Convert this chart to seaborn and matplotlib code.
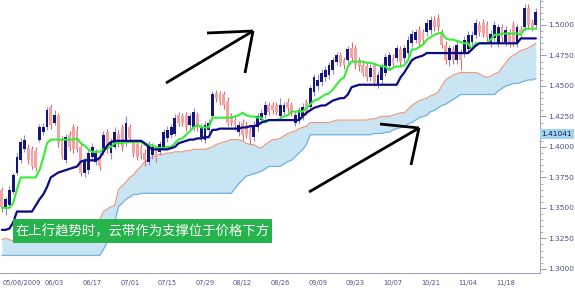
import numpy as np
import pandas as pd
import matplotlib
matplotlib.use("Agg")
import matplotlib.pyplot as plt
from matplotlib.lines import Line2D
from matplotlib.patches import Rectangle
from matplotlib.transforms import ScaledTranslation
import seaborn as sns

# daily candles, one per trading day
opens = [
    1.365, 1.351, 1.352, 1.363, 1.379, 1.389, 1.398, 1.399, 1.398, 1.397,
    1.406, 1.412, 1.416, 1.433, 1.420, 1.425, 1.406, 1.389, 1.410, 1.416,
    1.414, 1.400, 1.379, 1.381, 1.392, 1.388, 1.392, 1.396, 1.412, 1.395,
    1.400, 1.411, 1.416, 1.404, 1.416, 1.403, 1.402, 1.399, 1.395, 1.388,
    1.393, 1.398, 1.396, 1.400, 1.407, 1.410, 1.411, 1.426, 1.425, 1.426,
    1.418, 1.416, 1.426, 1.408, 1.406, 1.414, 1.425, 1.444, 1.443, 1.443,
    1.438, 1.425, 1.422, 1.412, 1.420, 1.418, 1.414, 1.408, 1.416, 1.422,
    1.426, 1.434, 1.434, 1.434, 1.425, 1.429, 1.437, 1.434, 1.420, 1.422,
    1.425, 1.436, 1.433, 1.445, 1.450, 1.453, 1.457, 1.459, 1.463, 1.470,
    1.475, 1.471, 1.471, 1.481, 1.481, 1.471, 1.467, 1.466, 1.457, 1.467,
    1.452, 1.455, 1.461, 1.466, 1.473, 1.473, 1.480, 1.473, 1.477, 1.485,
    1.488, 1.496, 1.494, 1.494, 1.496, 1.504, 1.506, 1.494, 1.484, 1.471,
    1.480, 1.471, 1.477, 1.477, 1.480, 1.486, 1.492, 1.500, 1.502, 1.500,
    1.485, 1.489, 1.485, 1.498, 1.486, 1.494, 1.500, 1.485, 1.496, 1.498,
    1.514, 1.502, 1.500,
]
closes = [
    1.351, 1.357, 1.365, 1.377, 1.392, 1.404, 1.406, 1.389, 1.384, 1.383,
    1.416, 1.416, 1.430, 1.418, 1.426, 1.403, 1.393, 1.408, 1.400, 1.398,
    1.398, 1.379, 1.389, 1.395, 1.400, 1.395, 1.384, 1.410, 1.398, 1.404,
    1.412, 1.403, 1.400, 1.420, 1.407, 1.395, 1.392, 1.393, 1.389, 1.402,
    1.400, 1.391, 1.402, 1.412, 1.414, 1.416, 1.424, 1.420, 1.420, 1.416,
    1.425, 1.429, 1.416, 1.416, 1.418, 1.420, 1.443, 1.440, 1.437, 1.434,
    1.420, 1.420, 1.418, 1.418, 1.410, 1.410, 1.406, 1.418, 1.425, 1.428,
    1.434, 1.429, 1.430, 1.429, 1.434, 1.434, 1.432, 1.428, 1.426, 1.430,
    1.433, 1.429, 1.448, 1.457, 1.455, 1.461, 1.463, 1.467, 1.471, 1.475,
    1.469, 1.467, 1.480, 1.473, 1.467, 1.466, 1.461, 1.457, 1.465, 1.453,
    1.459, 1.466, 1.474, 1.475, 1.469, 1.481, 1.470, 1.481, 1.488, 1.493,
    1.494, 1.485, 1.488, 1.502, 1.504, 1.498, 1.498, 1.484, 1.471, 1.481,
    1.471, 1.484, 1.471, 1.488, 1.492, 1.492, 1.502, 1.494, 1.493, 1.490,
    1.493, 1.500, 1.498, 1.489, 1.496, 1.485, 1.486, 1.498, 1.493, 1.514,
    1.500, 1.498, 1.511,
]
highs = [
    1.367, 1.359, 1.368, 1.379, 1.395, 1.407, 1.410, 1.402, 1.401, 1.400,
    1.419, 1.420, 1.433, 1.435, 1.430, 1.428, 1.409, 1.411, 1.413, 1.419,
    1.417, 1.403, 1.392, 1.398, 1.403, 1.398, 1.395, 1.413, 1.415, 1.407,
    1.416, 1.414, 1.419, 1.425, 1.419, 1.406, 1.405, 1.402, 1.398, 1.405,
    1.403, 1.401, 1.405, 1.415, 1.417, 1.419, 1.427, 1.429, 1.428, 1.429,
    1.428, 1.432, 1.429, 1.419, 1.421, 1.423, 1.446, 1.447, 1.446, 1.446,
    1.441, 1.428, 1.425, 1.421, 1.423, 1.421, 1.417, 1.421, 1.428, 1.431,
    1.438, 1.437, 1.437, 1.437, 1.440, 1.437, 1.440, 1.437, 1.429, 1.433,
    1.436, 1.439, 1.451, 1.460, 1.460, 1.464, 1.466, 1.470, 1.474, 1.478,
    1.478, 1.474, 1.483, 1.486, 1.484, 1.474, 1.470, 1.469, 1.468, 1.470,
    1.462, 1.469, 1.477, 1.478, 1.476, 1.484, 1.483, 1.484, 1.491, 1.496,
    1.497, 1.499, 1.497, 1.505, 1.507, 1.507, 1.509, 1.497, 1.487, 1.484,
    1.483, 1.487, 1.480, 1.491, 1.495, 1.495, 1.505, 1.503, 1.505, 1.503,
    1.496, 1.503, 1.501, 1.501, 1.499, 1.497, 1.503, 1.501, 1.499, 1.517,
    1.517, 1.505, 1.514,
]
lows = [
    1.347, 1.344, 1.350, 1.361, 1.377, 1.387, 1.396, 1.386, 1.382, 1.380,
    1.404, 1.410, 1.414, 1.415, 1.418, 1.400, 1.390, 1.387, 1.397, 1.395,
    1.396, 1.376, 1.375, 1.378, 1.390, 1.385, 1.381, 1.393, 1.395, 1.390,
    1.398, 1.400, 1.397, 1.401, 1.404, 1.392, 1.389, 1.390, 1.384, 1.385,
    1.390, 1.388, 1.393, 1.398, 1.404, 1.407, 1.409, 1.417, 1.417, 1.413,
    1.415, 1.413, 1.413, 1.405, 1.403, 1.411, 1.422, 1.437, 1.434, 1.431,
    1.417, 1.417, 1.414, 1.409, 1.406, 1.407, 1.402, 1.405, 1.413, 1.419,
    1.423, 1.426, 1.427, 1.426, 1.422, 1.426, 1.429, 1.425, 1.417, 1.419,
    1.422, 1.426, 1.430, 1.442, 1.447, 1.450, 1.454, 1.456, 1.460, 1.467,
    1.466, 1.464, 1.468, 1.470, 1.464, 1.462, 1.458, 1.454, 1.454, 1.450,
    1.448, 1.452, 1.458, 1.463, 1.466, 1.470, 1.467, 1.470, 1.474, 1.482,
    1.485, 1.482, 1.485, 1.491, 1.493, 1.495, 1.495, 1.481, 1.468, 1.466,
    1.468, 1.468, 1.463, 1.474, 1.477, 1.483, 1.489, 1.491, 1.490, 1.487,
    1.482, 1.486, 1.482, 1.486, 1.483, 1.482, 1.483, 1.482, 1.490, 1.495,
    1.497, 1.495, 1.497,
]

# ichimoku lines
tenkan = [
    1.350, 1.350, 1.350, 1.354, 1.365, 1.375, 1.375, 1.375, 1.375, 1.375,
    1.381, 1.391, 1.403, 1.406, 1.406, 1.406, 1.406, 1.406, 1.406, 1.406,
    1.407, 1.403, 1.401, 1.398, 1.396, 1.396, 1.396, 1.398, 1.399, 1.400,
    1.403, 1.403, 1.403, 1.404, 1.404, 1.404, 1.404, 1.404, 1.402, 1.402,
    1.401, 1.400, 1.399, 1.399, 1.400, 1.400, 1.403, 1.406, 1.407, 1.410,
    1.413, 1.416, 1.418, 1.416, 1.416, 1.416, 1.424, 1.424, 1.424, 1.424,
    1.424, 1.424, 1.425, 1.426, 1.428, 1.426, 1.425, 1.425, 1.424, 1.424,
    1.420, 1.422, 1.422, 1.422, 1.423, 1.425, 1.426, 1.429, 1.429, 1.429,
    1.429, 1.432, 1.435, 1.438, 1.439, 1.441, 1.443, 1.444, 1.447, 1.451,
    1.455, 1.457, 1.466, 1.470, 1.470, 1.470, 1.470, 1.469, 1.469, 1.468,
    1.467, 1.466, 1.466, 1.463, 1.465, 1.466, 1.466, 1.467, 1.471, 1.480,
    1.480, 1.482, 1.484, 1.488, 1.490, 1.492, 1.493, 1.494, 1.489, 1.488,
    1.488, 1.487, 1.486, 1.485, 1.485, 1.480, 1.485, 1.485, 1.485, 1.485,
    1.488, 1.492, 1.492, 1.493, 1.493, 1.493, 1.493, 1.493, 1.492, 1.497,
    1.497, 1.497, 1.497,
]
kijun = [
    1.332, 1.332, 1.333, 1.338, 1.347, 1.347, 1.347, 1.347, 1.347, 1.352,
    1.357, 1.361, 1.367, 1.375, 1.377, 1.379, 1.380, 1.381, 1.382, 1.383,
    1.384, 1.388, 1.389, 1.389, 1.389, 1.389, 1.391, 1.396, 1.401, 1.404,
    1.405, 1.405, 1.405, 1.405, 1.405, 1.405, 1.405, 1.405, 1.403, 1.400,
    1.398, 1.398, 1.398, 1.398, 1.398, 1.399, 1.400, 1.403, 1.404, 1.405,
    1.406, 1.406, 1.407, 1.407, 1.408, 1.408, 1.414, 1.414, 1.415, 1.415,
    1.415, 1.415, 1.415, 1.415, 1.416, 1.416, 1.417, 1.417, 1.418, 1.420,
    1.421, 1.422, 1.422, 1.422, 1.422, 1.422, 1.422, 1.422, 1.422, 1.422,
    1.425, 1.428, 1.430, 1.432, 1.433, 1.434, 1.434, 1.436, 1.438, 1.439,
    1.440, 1.440, 1.443, 1.449, 1.450, 1.451, 1.451, 1.451, 1.451, 1.451,
    1.451, 1.451, 1.451, 1.451, 1.451, 1.451, 1.457, 1.461, 1.466, 1.471,
    1.473, 1.474, 1.475, 1.477, 1.477, 1.477, 1.477, 1.477, 1.477, 1.477,
    1.477, 1.477, 1.477, 1.477, 1.477, 1.480, 1.483, 1.485, 1.485, 1.485,
    1.485, 1.485, 1.485, 1.485, 1.485, 1.485, 1.485, 1.485, 1.489, 1.489,
    1.489, 1.489, 1.489,
]
span_a = [
    1.324, 1.325, 1.324, 1.323, 1.324, 1.324, 1.325, 1.325, 1.324, 1.323,
    1.323, 1.324, 1.325, 1.325, 1.324, 1.324, 1.323, 1.323, 1.324, 1.324,
    1.325, 1.325, 1.324, 1.327, 1.330, 1.334, 1.340, 1.347, 1.349, 1.351,
    1.352, 1.365, 1.368, 1.371, 1.375, 1.377, 1.381, 1.384, 1.388, 1.390,
    1.392, 1.393, 1.394, 1.394, 1.395, 1.395, 1.396, 1.396, 1.396, 1.397,
    1.397, 1.398, 1.398, 1.398, 1.398, 1.399, 1.400, 1.402, 1.403, 1.404,
    1.405, 1.406, 1.406, 1.406, 1.405, 1.403, 1.402, 1.402, 1.400, 1.399,
    1.402, 1.404, 1.406, 1.406, 1.407, 1.409, 1.411, 1.412, 1.413, 1.415,
    1.416, 1.417, 1.420, 1.420, 1.420, 1.420, 1.420, 1.420, 1.421, 1.422,
    1.422, 1.422, 1.422, 1.422, 1.422, 1.422, 1.422, 1.422, 1.423, 1.423,
    1.424, 1.425, 1.425, 1.425, 1.426, 1.427, 1.428, 1.428, 1.431, 1.434,
    1.436, 1.438, 1.439, 1.440, 1.442, 1.443, 1.445, 1.450, 1.455, 1.457,
    1.459, 1.460, 1.461, 1.461, 1.461, 1.461, 1.461, 1.460, 1.458, 1.457,
    1.458, 1.460, 1.461, 1.465, 1.469, 1.473, 1.475, 1.477, 1.479, 1.480,
    1.481, 1.483, 1.485,
]
span_b = [
    1.311, 1.311, 1.311, 1.311, 1.311, 1.311, 1.311, 1.311, 1.311, 1.311,
    1.311, 1.311, 1.311, 1.311, 1.311, 1.311, 1.311, 1.311, 1.311, 1.311,
    1.311, 1.311, 1.311, 1.311, 1.311, 1.311, 1.311, 1.316, 1.322, 1.328,
    1.338, 1.351, 1.354, 1.357, 1.359, 1.361, 1.361, 1.362, 1.362, 1.362,
    1.362, 1.362, 1.362, 1.362, 1.362, 1.362, 1.362, 1.362, 1.362, 1.362,
    1.362, 1.362, 1.362, 1.362, 1.362, 1.362, 1.362, 1.362, 1.362, 1.362,
    1.362, 1.362, 1.366, 1.370, 1.373, 1.376, 1.377, 1.378, 1.379, 1.380,
    1.382, 1.384, 1.384, 1.384, 1.384, 1.386, 1.388, 1.389, 1.392, 1.395,
    1.398, 1.402, 1.410, 1.410, 1.410, 1.410, 1.410, 1.410, 1.410, 1.410,
    1.410, 1.410, 1.410, 1.410, 1.410, 1.410, 1.410, 1.410, 1.410, 1.411,
    1.411, 1.411, 1.412, 1.412, 1.414, 1.415, 1.416, 1.416, 1.419, 1.420,
    1.422, 1.424, 1.425, 1.426, 1.429, 1.430, 1.432, 1.434, 1.435, 1.437,
    1.439, 1.441, 1.443, 1.443, 1.443, 1.443, 1.443, 1.443, 1.443, 1.443,
    1.443, 1.443, 1.446, 1.448, 1.450, 1.451, 1.452, 1.452, 1.453, 1.454,
    1.455, 1.455, 1.456,
]

date_labels = ["05/06/2009", "06/03", "06/17", "07/01", "07/15", "07/29", "08/12",
               "08/26", "09/09", "09/23", "10/07", "10/21", "11/04", "11/18"]
price_ticks = [1.300, 1.325, 1.350, 1.375, 1.400, 1.425, 1.450, 1.475, 1.500]
last_price = 1.41041
caption = "在上行趋势时，云带作为支撑位于价格下方"

df = pd.DataFrame({"open": opens, "high": highs, "low": lows, "close": closes,
                   "tenkan": tenkan, "kijun": kijun, "span_a": span_a, "span_b": span_b})
df["day"] = np.arange(len(df))

sns.set_theme(style="white")
plt.rcParams["font.family"] = ["DejaVu Sans"]

W, H = 575, 293
fig = plt.figure(figsize=(W / 100, H / 100), dpi=100)
ax = fig.add_axes([0, 20 / H, 540 / W, 273 / H])

# cloud
ax.fill_between(df["day"], df["span_a"], df["span_b"], color="#c9e4f3", lw=0, zorder=1)
ax.plot(df["day"], df["span_a"], color="#e89c84", lw=0.9, zorder=2)
ax.plot(df["day"], df["span_b"], color="#6fb4e2", lw=0.9, zorder=2)

# candles
up = df["close"] >= df["open"]
body_col = np.where(up, "#15157a", "#f3a3a3")
wick_col = np.where(up, "#8c8cd2", "#e06868")
ax.vlines(df["day"], df["low"], df["high"], colors=wick_col, lw=0.8, zorder=3)
ax.bar(df["day"], (df["close"] - df["open"]).abs().clip(lower=0.0008),
       bottom=df[["open", "close"]].min(axis=1), width=0.75,
       color=body_col, lw=0, zorder=4)

# tenkan / kijun
sns.lineplot(data=df, x="day", y="tenkan", color="#33ee33", lw=1.5, ax=ax, zorder=5)
sns.lineplot(data=df, x="day", y="kijun", color="#0b0b82", lw=1.6, ax=ax, zorder=6)

ax.set_xlim(-0.5, 143.1)
ax.set_ylim(1.2966, 1.5205)
ax.set_xlabel("")
ax.set_ylabel("")

# axes styling
for s in ["left", "top"]:
    ax.spines[s].set_visible(False)
for s in ["right", "bottom"]:
    ax.spines[s].set_color("#a4a4b8")
    ax.spines[s].set_linewidth(0.8)

ax.yaxis.tick_right()
ax.set_yticks(price_ticks)
ax.set_yticklabels([f"{v:.4f}" for v in price_ticks])
ax.set_yticks(np.arange(1.300, 1.5201, 0.005), minor=True)
ax.tick_params(axis="y", which="major", direction="out", length=4, width=0.6,
               color="#8888a8", labelsize=5.4, labelcolor="#4e4e8e", pad=2)
ax.tick_params(axis="y", which="minor", direction="out", length=2.5, width=0.5,
               color="#8888a8")

ax.set_xticks(4 + 10 * np.arange(len(date_labels)))
ax.set_xticklabels(date_labels)
ax.set_xticks(np.arange(0, 144, 2), minor=True)
ax.tick_params(axis="x", which="major", direction="inout", length=6, width=0.6,
               color="#8888a8", labelsize=4.8, labelcolor="#4e4e8e", pad=2)
ax.tick_params(axis="x", which="minor", direction="in", length=2.5, width=0.5,
               color="#8888a8")
# first date label sits against the left edge
first = ax.get_xticklabels()[0]
first.set_transform(first.get_transform() + ScaledTranslation(0.045, 0, fig.dpi_scale_trans))

# last price tag on the axis
ax.text(1.003, last_price, f"{last_price:.5f}", transform=ax.get_yaxis_transform(),
        ha="left", va="center", fontsize=5.4, color="#1a1a4a",
        bbox=dict(boxstyle="square,pad=0.25", fc="#9fd5f1", ec="none"))

# hand drawn arrows (pixel positions of the annotation)
def px(x, y):
    return x / W, 1 - y / H

def stroke(p0, p1):
    (x0, y0), (x1, y1) = px(*p0), px(*p1)
    fig.add_artist(Line2D([x0, x1], [y0, y1], color="black", lw=2.0,
                          solid_capstyle="butt", zorder=10))

for tail, tip, h1, h2 in [((166, 83), (253, 31), (207, 33), (245, 73)),
                          ((309, 192), (419, 128), (380, 124), (411, 165))]:
    stroke(tail, tip)
    stroke(tip, h1)
    stroke(tip, h2)

# caption box
x0, y0 = px(13, 243)
fig.add_artist(Rectangle((x0, y0), 259 / W, 24 / H, transform=fig.transFigure,
                         fc="#27b34b", ec="none", zorder=11))
fig.text(*px(142.5, 231), caption, ha="center", va="center", color="white",
         fontsize=9.6, family=["Noto Sans CJK SC", "DejaVu Sans"], zorder=12)

fig.savefig("out.png", dpi=100, facecolor="white")
